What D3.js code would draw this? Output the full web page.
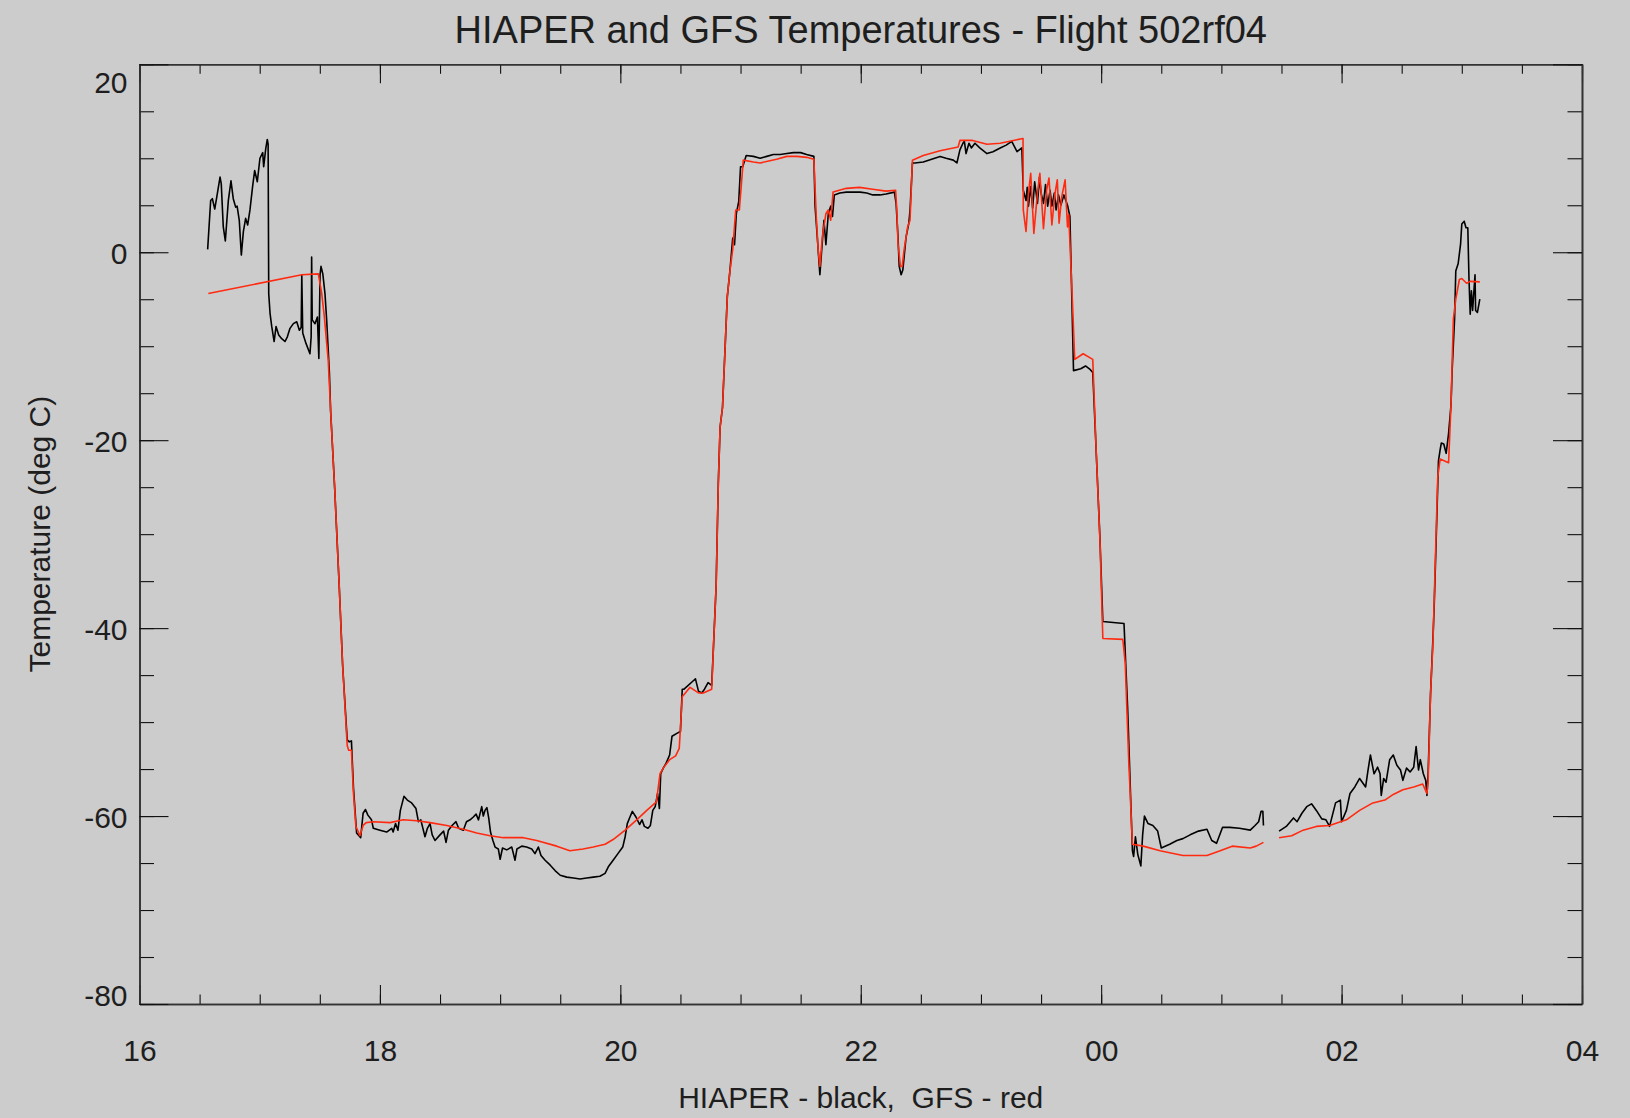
<!DOCTYPE html>
<html>
<head>
<meta charset="utf-8">
<script src="https://cdn.jsdelivr.net/npm/d3@7"></script>
<style>
  html, body { margin: 0; padding: 0; background: #cccccc; }
  svg text { font-family: "Liberation Sans", Arial, Helvetica, sans-serif; fill: #1e1e1e; }
</style>
</head>
<body>
<div id="chart"></div>
<script>
// hours since midnight of the first day (values past 24 are the next day)
var hiaperTime = [
  16.567,16.592,16.606,16.626,16.642,16.670,16.680,16.697,16.714,16.739,16.761,16.780,16.800,16.812,16.830,
  16.847,16.864,16.883,16.900,16.919,16.941,16.958,16.980,17.002,17.025,17.033,17.050,17.063,17.070,17.075,
  17.086,17.100,17.120,17.136,17.158,17.183,17.210,17.230,17.252,17.280,17.308,17.330,17.345,17.350,17.358,
  17.385,17.418,17.428,17.432,17.437,17.460,17.480,17.492,17.502,17.510,17.525,17.543,17.557,17.580,17.590,
  17.624,17.660,17.690,17.728,17.745,17.763,17.780,17.806,17.840,17.860,17.880,17.900,17.930,17.945,18.000,
  18.056,18.098,18.110,18.130,18.150,18.170,18.200,18.228,18.264,18.300,18.320,18.340,18.375,18.395,18.417,
  18.435,18.458,18.500,18.530,18.550,18.570,18.600,18.633,18.655,18.694,18.720,18.750,18.777,18.800,18.820,
  18.847,18.860,18.874,18.890,18.905,18.920,18.940,18.958,18.985,19.000,19.020,19.055,19.097,19.124,19.140,
  19.180,19.220,19.263,19.290,19.318,19.340,19.374,19.415,19.457,19.500,19.554,19.610,19.665,19.720,19.775,
  19.830,19.873,19.900,19.940,19.980,20.020,20.040,20.058,20.080,20.100,20.130,20.160,20.180,20.200,20.230,
  20.250,20.270,20.290,20.310,20.325,20.336,20.357,20.380,20.410,20.430,20.470,20.500,20.515,20.530,20.607,
  20.625,20.650,20.677,20.700,20.730,20.760,20.774,20.797,20.815,20.830,20.850,20.870,20.890,20.910,20.935,
  20.950,20.965,20.985,21.000,21.018,21.047,21.107,21.163,21.218,21.273,21.330,21.385,21.440,21.500,21.550,
  21.610,21.620,21.640,21.660,21.675,21.694,21.710,21.730,21.750,21.765,21.780,21.826,21.880,21.940,21.995,
  22.050,22.100,22.160,22.210,22.280,22.294,22.310,22.320,22.336,22.350,22.377,22.400,22.410,22.430,22.450,
  22.520,22.590,22.660,22.710,22.770,22.800,22.825,22.850,22.862,22.876,22.900,22.920,22.950,22.990,23.050,
  23.100,23.160,23.210,23.256,23.300,23.340,23.352,23.375,23.385,23.395,23.414,23.430,23.447,23.470,23.487,
  23.500,23.520,23.537,23.555,23.575,23.590,23.610,23.625,23.645,23.665,23.690,23.720,23.740,23.770,23.830,
  23.870,23.910,23.930,23.960,23.990,24.014,24.100,24.190,24.220,24.260,24.270,24.285,24.305,24.330,24.345,
  24.360,24.390,24.430,24.470,24.500,24.570,24.630,24.680,24.740,24.810,24.880,24.920,24.960,25.010,25.070,
  25.150,25.240,25.280,25.310,25.330,25.345,25.350,
  25.415,
  25.480,25.540,25.600,25.630,25.670,25.710,25.750,25.790,25.835,25.870,25.900,25.950,25.990,26.000,26.040,
  26.070,26.110,26.150,26.200,26.220,26.240,26.270,26.300,26.320,26.330,26.350,26.370,26.400,26.430,26.460,
  26.490,26.510,26.540,26.570,26.600,26.620,26.640,26.655,26.680,26.700,26.710,26.720,26.740,26.760,26.770,
  26.786,26.806,26.820,26.830,26.850,26.870,26.890,26.910,26.920,26.940,26.950,26.970,26.990,27.000,27.020,
  27.035,27.050,27.060,27.070,27.080,27.090,27.110,27.115,27.130,27.150
];
var hiaperTemp = [
  0.3,5.5,5.7,4.6,5.8,8.0,7.3,2.7,1.2,5.5,7.6,5.7,4.8,4.9,3.4,
  -0.3,2.2,3.6,2.9,4.5,7.0,8.7,7.5,10.0,10.6,9.1,11.0,12.0,11.5,-4.4,
  -6.5,-7.9,-9.5,-7.9,-8.8,-9.2,-9.5,-9.0,-8.1,-7.6,-7.4,-8.3,-8.0,-2.4,-8.6,
  -9.7,-10.8,-9.0,-0.5,-7.2,-7.6,-6.9,-11.3,-2.4,-1.5,-2.3,-4.4,-7.2,-12.9,-16.9,
  -25.2,-35.1,-44.0,-51.9,-52.1,-52.0,-57.0,-61.8,-62.3,-59.7,-59.3,-59.9,-60.4,-61.3,-61.5,
  -61.7,-61.3,-61.7,-60.8,-61.5,-59.4,-57.9,-58.3,-58.6,-59.2,-60.6,-60.4,-62.2,-61.3,-60.8,
  -62.0,-62.6,-62.0,-61.6,-62.8,-61.5,-61.0,-60.6,-61.3,-61.5,-60.6,-60.4,-60.1,-59.8,-60.4,
  -59.0,-60.0,-59.4,-59.1,-60.2,-61.7,-62.6,-63.3,-63.5,-64.6,-63.4,-63.6,-63.3,-64.7,-63.5,
  -63.2,-63.3,-63.5,-64.0,-63.3,-64.2,-64.7,-65.2,-65.8,-66.3,-66.5,-66.6,-66.7,-66.6,-66.5,
  -66.4,-66.1,-65.4,-64.7,-64.0,-63.3,-62.2,-60.8,-60.1,-59.5,-60.1,-60.9,-60.4,-61.1,-61.3,
  -61.0,-59.4,-59.0,-57.6,-59.2,-55.5,-54.9,-54.4,-53.5,-51.5,-51.2,-51.0,-46.5,-46.5,-45.6,
  -45.4,-46.7,-46.9,-46.5,-45.8,-46.1,-42.2,-35.5,-24.6,-18.6,-16.5,-10.6,-4.7,-2.2,1.5,
  0.8,4.1,5.4,9.1,9.1,10.3,10.2,10.0,10.2,10.4,10.4,10.5,10.6,10.6,10.4,
  10.2,4.9,1.3,-2.4,0.2,3.4,0.8,4.1,4.9,3.8,6.1,6.3,6.4,6.4,6.4,
  6.3,6.1,6.1,6.2,6.4,5.2,1.6,-1.5,-2.4,-1.9,1.6,3.1,4.5,9.5,9.5,
  9.6,9.9,10.2,10.0,9.8,9.5,10.9,11.6,11.8,10.5,11.6,11.1,11.6,11.1,10.5,
  10.7,11.1,11.4,11.8,10.7,11.1,6.6,5.5,6.9,4.9,7.0,4.7,7.5,5.2,8.0,
  6.3,5.2,7.2,4.9,6.6,4.9,6.3,4.5,6.1,5.0,6.1,5.0,3.8,-12.6,-12.4,
  -12.1,-12.5,-12.8,-21.6,-30.5,-39.3,-39.4,-39.5,-48.4,-63.7,-64.3,-62.2,-64.1,-65.3,-62.0,
  -60.0,-60.8,-61.0,-61.6,-63.4,-63.0,-62.6,-62.4,-62.0,-61.6,-61.4,-62.6,-62.9,-61.2,-61.2,
  -61.3,-61.5,-61.0,-60.6,-59.5,-59.5,-61.0,
  null,
  -61.6,-61.1,-60.2,-60.6,-59.7,-59.0,-58.7,-59.4,-60.3,-60.4,-61.1,-58.6,-58.3,-60.6,-59.4,
  -57.6,-56.9,-56.0,-56.9,-55.1,-53.5,-55.5,-54.8,-55.5,-57.8,-56.0,-56.4,-54.0,-53.5,-54.6,
  -55.1,-56.2,-54.9,-55.3,-54.8,-52.6,-55.1,-54.0,-55.5,-56.2,-57.8,-55.4,-47.0,-41.1,-37.8,
  -31.0,-22.2,-21.0,-20.3,-20.4,-21.4,-19.3,-16.3,-12.5,-7.1,-2.0,-1.2,0.9,3.0,3.3,
  2.6,2.6,-2.9,-6.6,-4.1,-6.2,-2.4,-6.2,-6.4,-5.0
];

var gfsTime = [
  16.573,17.350,17.488,17.516,17.538,17.570,17.590,17.624,17.660,17.690,17.728,17.740,17.763,17.780,17.800,
  17.834,17.860,17.886,17.945,18.084,18.195,18.306,18.417,18.556,18.694,18.805,18.916,19.027,19.193,19.304,
  19.471,19.580,19.690,19.775,19.873,19.940,20.040,20.136,20.220,20.300,20.330,20.357,20.410,20.460,20.490,
  20.515,20.580,20.650,20.690,20.760,20.774,20.797,20.815,20.830,20.850,20.870,20.890,20.910,20.935,20.960,
  20.990,21.023,21.107,21.163,21.300,21.385,21.470,21.550,21.610,21.630,21.646,21.660,21.680,21.710,21.730,
  21.750,21.770,21.880,21.990,22.100,22.210,22.290,22.300,22.310,22.330,22.345,22.360,22.390,22.410,22.430,
  22.520,22.660,22.810,22.825,22.930,23.050,23.160,23.270,23.350,23.352,23.375,23.395,23.414,23.440,23.470,
  23.490,23.520,23.546,23.566,23.590,23.614,23.635,23.650,23.672,23.700,23.720,23.730,23.756,23.780,23.850,
  23.930,23.960,23.990,24.014,24.180,24.200,24.230,24.260,24.350,24.490,24.680,24.880,24.990,25.090,25.240,
  25.290,25.350,
  25.415,
  25.480,25.585,25.680,25.790,25.900,26.040,26.150,26.260,26.360,26.430,26.510,26.600,26.675,26.710,26.720,
  26.740,26.760,26.780,26.800,26.820,26.890,26.910,26.930,26.950,26.980,27.000,27.040,27.070,27.150
];
var gfsTemp = [
  -4.4,-2.4,-2.3,-4.4,-6.9,-11.5,-16.9,-25.2,-35.1,-44.0,-52.5,-53.0,-53.0,-57.6,-61.1,
  -62.1,-61.0,-60.7,-60.6,-60.7,-60.4,-60.5,-60.7,-61.0,-61.4,-61.8,-62.1,-62.3,-62.3,-62.6,
  -63.2,-63.7,-63.5,-63.3,-63.0,-62.5,-61.5,-60.4,-59.4,-58.5,-55.5,-54.9,-54.0,-53.6,-52.8,
  -47.3,-46.3,-46.9,-46.9,-46.5,-42.2,-35.5,-24.6,-18.6,-16.5,-10.6,-4.7,-2.2,0.3,4.5,
  4.5,9.8,9.6,9.5,9.9,10.2,10.2,10.1,9.9,3.8,0.2,-1.5,1.6,4.1,4.5,
  3.4,6.4,6.8,6.9,6.7,6.5,6.6,4.5,0.9,-1.5,-1.5,0.2,2.7,3.4,9.8,
  10.3,10.8,11.2,11.9,11.9,11.5,11.6,11.9,12.1,4.5,2.2,6.3,8.4,2.0,6.3,
  8.4,2.5,6.6,7.9,2.9,6.1,7.7,3.1,5.9,7.7,2.7,4.0,-3.7,-11.4,-10.8,
  -11.4,-21.6,-30.7,-41.1,-41.2,-43.7,-54.3,-63.0,-63.2,-63.7,-64.2,-64.2,-63.7,-63.2,-63.4,
  -63.2,-62.8,
  null,
  -62.3,-62.1,-61.5,-61.1,-61.0,-60.4,-59.4,-58.6,-58.3,-57.7,-57.2,-56.9,-56.6,-57.6,-56.3,
  -47.0,-41.6,-32.7,-23.9,-22.0,-22.4,-16.3,-7.1,-5.0,-2.9,-2.8,-3.3,-3.1,-3.15
];

var xMajorTicks = [16, 18, 20, 22, 24, 26, 28];
var yMajorTicks = [-80, -60, -40, -20, 0, 20];

var titleText = "HIAPER and GFS Temperatures - Flight 502rf04";
var xLabelText = "HIAPER - black,  GFS - red";
var yLabelText = "Temperature (deg C)";

// note: "top" is taken by window.top, so plot edges get their own names
var width = 1630,
  height = 1118,
  plotLeft = 139.5,
  plotRight = 1582,
  plotTop = 64.3,
  plotBottom = 1004;

var axisColor = "#333333";

var svg = d3.select("#chart")
  .append("svg")
  .attr("width", width)
  .attr("height", height)
  .style("display", "block")
  .style("background", "#cccccc");

var x = d3.scaleLinear().domain([16, 28]).range([plotLeft, plotRight]);
var y = d3.scaleLinear().domain([-80, 20]).range([plotBottom, plotTop]);

var xMinor = d3.range(16, 28.01, 0.5);
var yMinor = d3.range(-80, 20.01, 5);

function hourLabel(d) {
  var h = d % 24;
  return (h < 10 ? "0" : "") + h;
}

// plain hyphen for negatives, like the original plot
function tempLabel(d) {
  return String(d);
}

// axes: ticks point inward on all four sides
function styleAxis(g) {
  g.select(".domain").attr("stroke", axisColor).attr("stroke-width", 1.6);
  g.selectAll(".tick line").attr("stroke", "#111").attr("stroke-width", 1.1);
}

svg.append("g")
  .attr("transform", "translate(0," + plotBottom + ")")
  .call(d3.axisBottom(x).tickValues(xMinor).tickSize(-9.5).tickSizeOuter(0).tickFormat(""))
  .call(styleAxis);
svg.append("g")
  .attr("transform", "translate(0," + plotTop + ")")
  .call(d3.axisTop(x).tickValues(xMinor).tickSize(-9.5).tickSizeOuter(0).tickFormat(""))
  .call(styleAxis);
svg.append("g")
  .attr("transform", "translate(" + plotLeft + ",0)")
  .call(d3.axisLeft(y).tickValues(yMinor).tickSize(-14.5).tickSizeOuter(0).tickFormat(""))
  .call(styleAxis);
svg.append("g")
  .attr("transform", "translate(" + plotRight + ",0)")
  .call(d3.axisRight(y).tickValues(yMinor).tickSize(-14.5).tickSizeOuter(0).tickFormat(""))
  .call(styleAxis);

var xBottom = svg.append("g")
  .attr("transform", "translate(0," + plotBottom + ")")
  .call(d3.axisBottom(x).tickValues(xMajorTicks).tickSize(-19).tickSizeOuter(0).tickFormat(hourLabel))
  .call(styleAxis);
xBottom.selectAll(".tick text")
  .attr("y", 57)
  .attr("dy", 0)
  .style("font-size", "30px")
  .attr("fill", "#1e1e1e");

svg.append("g")
  .attr("transform", "translate(0," + plotTop + ")")
  .call(d3.axisTop(x).tickValues(xMajorTicks).tickSize(-19).tickSizeOuter(0).tickFormat(""))
  .call(styleAxis);

var yLeft = svg.append("g")
  .attr("transform", "translate(" + plotLeft + ",0)")
  .call(d3.axisLeft(y).tickValues(yMajorTicks).tickSize(-29).tickSizeOuter(0).tickFormat(tempLabel))
  .call(styleAxis);
yLeft.selectAll(".tick text")
  .attr("x", -12)
  .attr("dy", 0)
  .attr("y", function (d) {
    // end labels are pulled inside the axis range
    var base = y(d) + 11;
    base = Math.max(base, plotTop + 28);
    base = Math.min(base, plotBottom + 1);
    return base - y(d);
  })
  .style("font-size", "30px")
  .attr("fill", "#1e1e1e");

svg.append("g")
  .attr("transform", "translate(" + plotRight + ",0)")
  .call(d3.axisRight(y).tickValues(yMajorTicks).tickSize(-29).tickSizeOuter(0).tickFormat(""))
  .call(styleAxis);

// series
function toPoints(t, v) {
  return t.map(function (d, i) { return {t: d, v: v[i]}; });
}

var line = d3.line()
  .defined(function (d) { return d.v !== null; })
  .x(function (d) { return x(d.t); })
  .y(function (d) { return y(d.v); });

svg.append("path")
  .datum(toPoints(hiaperTime, hiaperTemp))
  .attr("d", line)
  .attr("fill", "none")
  .attr("stroke", "#000")
  .attr("stroke-width", 1.6)
  .attr("stroke-linejoin", "round");

svg.append("path")
  .datum(toPoints(gfsTime, gfsTemp))
  .attr("d", line)
  .attr("fill", "none")
  .attr("stroke", "#ff2a10")
  .attr("stroke-width", 1.6)
  .attr("stroke-linejoin", "round");

// labels
svg.append("text")
  .attr("x", (plotLeft + plotRight) / 2)
  .attr("y", 43)
  .attr("text-anchor", "middle")
  .style("font-size", "38px")
  .text(titleText);

svg.append("text")
  .attr("x", (plotLeft + plotRight) / 2)
  .attr("y", 1108)
  .attr("text-anchor", "middle")
  .style("font-size", "30px")
  .style("white-space", "pre")
  .text(xLabelText);

svg.append("text")
  .attr("transform", "translate(50," + (plotTop + plotBottom) / 2 + ") rotate(-90)")
  .attr("text-anchor", "middle")
  .style("font-size", "30px")
  .text(yLabelText);
</script>
</body>
</html>
